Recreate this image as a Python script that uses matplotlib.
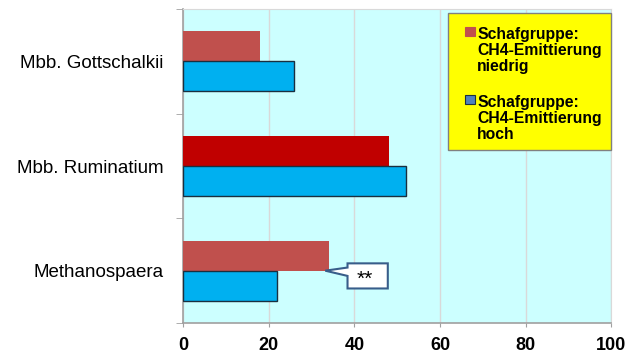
import matplotlib
matplotlib.use("Agg")
import matplotlib.pyplot as plt
from matplotlib.patches import Polygon, Rectangle

plt.rcParams['font.family'] = ['Liberation Sans', 'DejaVu Sans']

categories = ["Mbb. Gottschalkii", "Mbb. Ruminatium", "Methanospaera"]
low_vals = [18, 48, 34]
high_vals = [26, 52, 22]
low_colors = ["#C0504D", "#C00000", "#C0504D"]
series_labels = ["Schafgruppe:\nCH4-Emittierung\nniedrig", "Schafgruppe:\nCH4-Emittierung\nhoch"]
legend_colors = ["#C0504D", "#4F81BD"]
legend_edges = ["#C0504D", "#1A2F3F"]
xticks = [0, 20, 40, 60, 80, 100]
callout_text = "**"

fig = plt.figure(figsize=(6.3, 3.64), dpi=100)
ax = fig.add_axes([0.2905, 0.1126, 0.680, 0.8626])
ax.set_facecolor("#CCFFFF")

n = len(categories)
ypos = [n - 1 - i for i in range(n)]
h = 0.287

ax.barh([y + h / 2 for y in ypos], low_vals, height=h, color=low_colors, edgecolor="none", zorder=3)
ax.barh([y - h / 2 for y in ypos], high_vals, height=h, color="#00B0F0", edgecolor="#1A2F3F", linewidth=1.0, zorder=3)

ax.set_xlim(0, 100)
ax.set_ylim(-0.5, n - 0.5)
ax.set_xticks(xticks)
ax.set_xticklabels([str(t) for t in xticks], fontsize=13, fontweight="bold")
ax.set_yticks(ypos)
ax.set_yticklabels(categories, fontsize=13.5)
ax.tick_params(axis="y", length=0, pad=14)
ax.set_yticks([i - 0.5 for i in range(n + 1)], minor=True)
ax.tick_params(axis="y", which="minor", length=5, color="#A0A0A0", direction="out")
ax.tick_params(axis="x", length=3, color="#A0A0A0", direction="out", pad=7)

ax.grid(axis="x", color="#D9D9D9", linewidth=1, zorder=0)
ax.set_axisbelow(True)
for s in ["left", "bottom"]:
    ax.spines[s].set_color("#A0A0A0")
    ax.spines[s].set_linewidth(1.2)
for s in ["top", "right"]:
    ax.spines[s].set_color("#D9D9D9")

# callout anchored to the Methanospaera low-value bar
yb = ypos[2]
tip_x = low_vals[2] - 0.8
bx0, bx1 = tip_x + 5.2, tip_x + 14.6
by0, by1 = yb - 0.17, yb + 0.07
poly = Polygon([(tip_x, yb), (bx0, yb + 0.03), (bx0, by1), (bx1, by1), (bx1, by0),
                (bx0, by0), (bx0, yb - 0.05)], closed=True,
               facecolor="white", edgecolor="#385D8A", linewidth=1.5, zorder=5)
ax.add_patch(poly)
ax.text((bx0 + bx1) / 2 - 0.6, (by0 + by1) / 2 - 0.03, callout_text, ha="center", va="center",
        fontsize=15, zorder=6)

# legend box (drawn manually so markers align with the first text line)
T = ax.transAxes
ax.add_patch(Rectangle((0.619, 0.551), 0.381, 0.436, transform=T, facecolor="#FFFF00",
                       edgecolor="#808080", linewidth=1.0, zorder=10, clip_on=False))
block_tops = [0.958, 0.741]
for lab, fc, ec, yt in zip(series_labels, legend_colors, legend_edges, block_tops):
    ax.add_patch(Rectangle((0.659, yt - 0.044), 0.022, 0.029, transform=T, facecolor=fc,
                           edgecolor=ec, linewidth=0.8, zorder=11, clip_on=False))
    ax.text(0.687, yt - 0.014, lab, transform=T, ha="left", va="top", fontsize=11.3,
            fontweight="bold", linespacing=1.1, zorder=12)

fig.savefig("out.png", dpi=100)
